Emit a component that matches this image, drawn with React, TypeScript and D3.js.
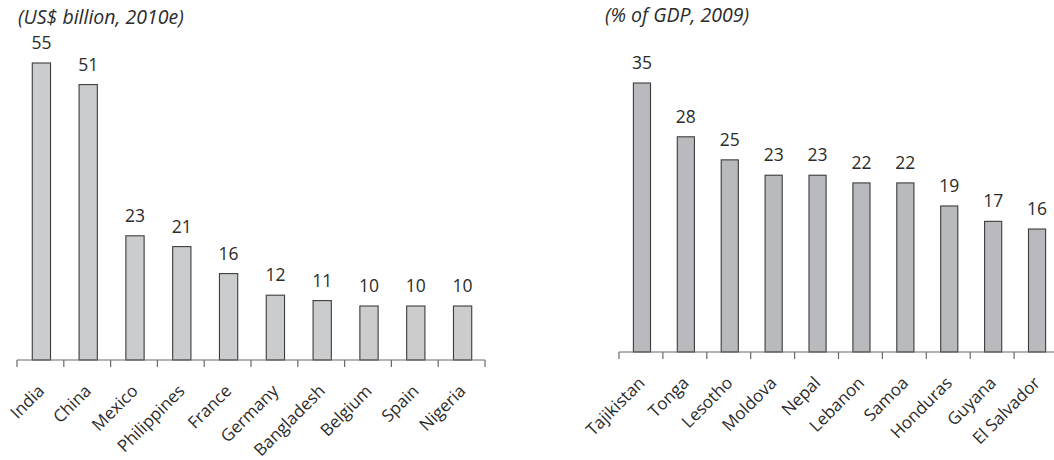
import React from "react";
import * as d3 from "d3";

// Left panel: remittance inflows, US$ billion (2010e)
const leftTitle = "(US$ billion, 2010e)";
const leftCountries = ["India", "China", "Mexico", "Philippines", "France", "Germany", "Bangladesh", "Belgium", "Spain", "Nigeria"];
const leftValues = [55, 51, 23, 21, 16, 12, 11, 10, 10, 10];

// Right panel: remittances as % of GDP (2009)
const rightTitle = "(% of GDP, 2009)";
const rightCountries = ["Tajikistan", "Tonga", "Lesotho", "Moldova", "Nepal", "Lebanon", "Samoa", "Honduras", "Guyana", "El Salvador"];
const rightValues = [35, 28, 25, 23, 23, 22, 22, 19, 17, 16];

const FONT = "'Open Sans', 'DejaVu Sans', sans-serif";
const TEXT = "#2b2b2b";

type PanelProps = {
  title: string;
  titleX: number;
  titleY: number;
  cats: string[];
  vals: number[];
  x0: number;
  x1: number;
  baseY: number;
  topY: number;
  fill: string;
};

function Panel({ title, titleX, titleY, cats, vals, x0, x1, baseY, topY, fill }: PanelProps) {
  const x = d3.scaleBand<string>().domain(cats).range([x0, x1]).paddingInner(0).paddingOuter(0);
  const y = d3.scaleLinear().domain([0, d3.max(vals) as number]).range([baseY, topY]);
  const bw = x.bandwidth() * 0.39;
  const edges = [...cats.map((c) => x(c) as number), x1];
  return (
    <g>
      <text x={titleX} y={titleY} fontFamily={FONT} fontStyle="italic" fontSize={19.5} fill={TEXT}>
        {title}
      </text>
      {cats.map((c, i) => {
        const cx = (x(c) as number) + x.bandwidth() / 2 + 1;
        return (
          <g key={c}>
            <rect
              x={cx - bw / 2}
              y={y(vals[i])}
              width={bw}
              height={baseY - y(vals[i])}
              fill={fill}
              stroke="#3c3c3c"
              strokeWidth={1.1}
            />
            <text x={cx} y={y(vals[i]) - 14} textAnchor="middle" fontFamily={FONT} fontSize={17.5} fill={TEXT}>
              {vals[i]}
            </text>
            <text
              transform={`translate(${cx + 4},${baseY + 32}) rotate(-45)`}
              textAnchor="end"
              fontFamily={FONT}
              fontSize={17}
              fill={TEXT}
            >
              {c}
            </text>
          </g>
        );
      })}
      <line x1={x0} x2={Math.min(x1, 1054)} y1={baseY} y2={baseY} stroke="#6a6a6a" strokeWidth={1.2} />
      {edges.map((e, i) => (
        <line key={i} x1={e} x2={e} y1={baseY} y2={baseY + 7} stroke="#6a6a6a" strokeWidth={1.2} />
      ))}
    </g>
  );
}

export default function App() {
  return (
    <svg
      width={1054}
      height={460}
      style={{ position: "absolute", left: 0, top: 0, background: "#fff" }}
    >
      <Panel
        title={leftTitle}
        titleX={18}
        titleY={24}
        cats={leftCountries}
        vals={leftValues}
        x0={17}
        x1={485}
        baseY={360}
        topY={63}
        fill="#cbcccd"
      />
      <Panel
        title={rightTitle}
        titleX={605}
        titleY={22}
        cats={rightCountries}
        vals={rightValues}
        x0={619}
        x1={1058}
        baseY={352}
        topY={83}
        fill="#b9babd"
      />
    </svg>
  );
}
